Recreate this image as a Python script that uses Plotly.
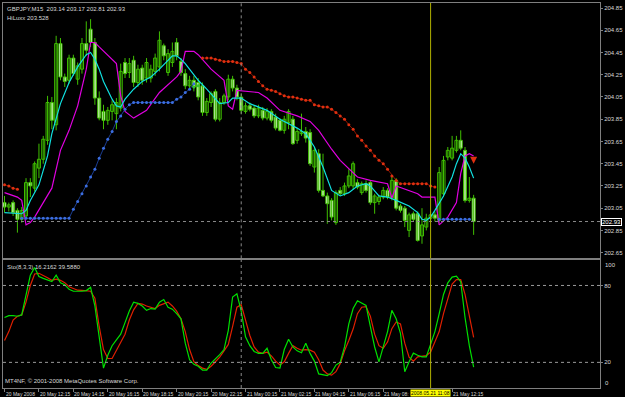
import plotly.graph_objects as go

# ---------------- data ----------------
bar_index = list(range(110))

ohlc_rows = [
    (203.10,203.16,203.01,203.06),(203.06,203.10,203.02,203.08),(203.10,203.12,202.98,203.01),
    (203.03,203.05,202.83,202.95),(202.95,203.06,202.92,203.03),(202.98,203.32,202.96,203.28),
    (203.28,203.32,203.15,203.25),(203.23,203.47,203.20,203.45),(203.41,203.63,203.32,203.49),
    (203.49,203.70,203.45,203.67),(203.66,204.06,203.62,204.00),(204.00,204.05,203.76,203.84),
    (203.80,204.60,203.75,204.53),(204.53,204.58,204.20,204.23),(204.23,204.26,204.14,204.19),
    (204.20,204.43,204.17,204.40),(204.40,204.43,204.24,204.26),(204.21,204.36,204.16,204.33),
    (204.30,204.58,204.26,204.53),(204.53,204.73,204.42,204.47),(204.66,204.75,204.50,204.54),
    (204.54,204.58,203.98,204.04),(204.04,204.10,203.84,203.86),(203.92,203.98,203.76,203.84),
    (203.84,203.96,203.80,203.93),(203.92,204.02,203.84,203.98),(203.90,204.04,203.76,204.00),
    (203.95,204.35,203.92,204.28),(204.36,204.40,204.22,204.26),(204.27,204.40,204.22,204.35),
    (204.38,204.42,204.14,204.18),(204.18,204.34,204.14,204.30),(204.31,204.34,204.16,204.20),
    (204.22,204.40,204.18,204.36),(204.22,204.34,204.18,204.30),(204.28,204.44,204.24,204.40),
    (204.32,204.64,204.28,204.56),(204.51,204.53,204.38,204.42),(204.27,204.48,204.24,204.44),
    (204.36,204.54,204.32,204.46),(204.54,204.58,204.38,204.42),(204.37,204.40,204.24,204.27),
    (204.26,204.30,204.12,204.15),(204.15,204.24,204.12,204.20),(204.20,204.24,204.10,204.14),
    (204.18,204.22,204.02,204.05),(204.15,204.18,203.88,203.91),(203.91,204.04,203.88,204.01),
    (204.00,204.10,203.96,204.08),(204.10,204.12,203.83,203.85),(203.85,204.04,203.83,204.00),
    (204.00,204.08,203.98,204.06),(204.05,204.25,204.02,204.21),(204.21,204.24,204.10,204.13),
    (204.13,204.16,204.02,204.05),(204.05,204.08,203.90,203.93),(203.92,204.00,203.90,203.97),
    (203.97,204.00,203.92,203.94),(203.95,203.98,203.86,203.88),(203.88,203.98,203.86,203.95),
    (203.93,203.96,203.84,203.86),(203.86,203.95,203.84,203.92),(203.92,203.94,203.82,203.84),
    (203.87,203.90,203.75,203.77),(203.84,203.86,203.74,203.75),(203.75,203.88,203.72,203.85),
    (203.82,203.94,203.76,203.92),(203.85,203.88,203.62,203.63),(203.66,203.77,203.63,203.74),
    (203.72,203.90,203.70,203.74),(203.74,203.78,203.64,203.68),(203.73,203.76,203.43,203.45),
    (203.42,203.60,203.37,203.57),(203.54,203.58,203.19,203.21),(203.21,203.54,203.15,203.16),
    (203.16,203.19,202.91,203.09),(203.12,203.14,202.94,202.97),(202.92,203.21,202.90,203.19),
    (203.21,203.24,203.16,203.18),(203.18,203.28,203.16,203.25),(203.25,203.40,203.23,203.34),
    (203.25,203.47,203.22,203.45),(203.28,203.31,203.22,203.24),(203.19,203.29,203.17,203.27),
    (203.27,203.30,203.19,203.21),(203.28,203.30,203.08,203.10),(203.10,203.18,203.00,203.16),
    (203.11,203.17,203.08,203.15),(203.15,203.24,203.13,203.21),(203.21,203.23,203.13,203.15),
    (203.14,203.33,203.12,203.30),(203.30,203.32,203.03,203.05),(203.07,203.09,203.01,203.03),
    (203.05,203.07,202.88,202.94),(202.85,203.01,202.79,202.99),(203.00,203.02,202.93,202.95),
    (203.00,203.02,202.75,202.76),(202.80,203.05,202.73,202.90),(202.88,203.00,202.85,202.96),
    (202.96,203.02,202.93,202.99),(202.99,203.02,202.93,202.96),(202.94,203.42,202.92,203.37),
    (203.18,203.52,203.15,203.48),(203.51,203.60,203.48,203.57),(203.50,203.70,203.48,203.59),
    (203.57,203.70,203.55,203.66),(203.66,203.75,203.57,203.59),(203.57,203.60,203.10,203.12),
    (203.12,203.33,203.10,203.14),(203.14,203.17,202.81,202.93),
]
opens = [r[0] for r in ohlc_rows]
highs = [r[1] for r in ohlc_rows]
lows = [r[2] for r in ohlc_rows]
closes = [r[3] for r in ohlc_rows]

# fast moving average (cyan), read at selected bars
ma_fast_idx = [0,4,5,6,8,10,11,12,13,15,17,19,20,21,22,23,25,26,27,28,30,32,34,36,38,39,40,41,42,44,45,47,
               50,52,53,55,57,61,64,68,70,72,74,76,78,80,82,84,85,87,89,91,94,96,97,98,99,100,102,104,105,
               106,107,108,109]
ma_fast_val = [203.01,203.00,203.03,203.12,203.26,203.52,203.72,203.86,203.99,204.18,204.32,204.43,204.45,
               204.39,204.30,204.19,204.03,203.97,203.96,204.03,204.12,204.19,204.23,204.30,204.38,204.42,
               204.42,204.39,204.35,204.25,204.20,204.12,203.99,204.00,204.04,204.04,203.99,203.93,203.85,
               203.77,203.72,203.60,203.42,203.21,203.16,203.19,203.25,203.27,203.25,203.16,203.15,203.12,
               203.07,203.01,202.95,202.94,202.97,203.03,203.16,203.33,203.45,203.54,203.50,203.42,203.32]

# slow moving average (magenta)
ma_slow_idx = [0,3,4,5,6,7,9,11,13,15,17,19,20,21,22,25,26,27,28,30,33,36,40,41,42,44,45,48,50,51,52,53,
               54,59,61,64,68,71,73,76,78,82,85,89,90,91,96,97,100,101,103,105,106,107,108,109]
ma_slow_val = [203.19,203.15,203.12,202.90,202.92,202.97,203.10,203.23,203.57,203.75,203.97,204.30,204.54,
               204.54,204.50,204.39,204.35,204.06,203.92,203.86,203.93,204.09,204.23,204.28,204.46,204.46,
               204.43,204.30,204.23,204.20,203.97,203.94,204.11,204.09,204.04,203.93,203.88,203.83,203.75,
               203.58,203.48,203.33,203.30,203.27,203.14,203.25,203.18,203.15,203.15,202.90,202.97,203.10,
               203.36,203.52,203.54,203.52]

N = None
# trailing stop above price (red) and below price (blue), one value per bar
stop_upper = [203.26,203.25,203.23,203.22] + [N]*42 + [
    204.40,204.40,204.40,204.39,204.38,204.37,204.37,204.37,204.36,204.35,
    204.30,204.27,204.23,204.19,204.15,204.12,204.11,204.10,204.08,204.06,
    204.05,204.05,204.04,204.03,204.02,204.02,203.98,203.97,203.96,203.96,
    203.94,203.91,203.88,203.85,203.80,203.76,203.70,203.66,203.61,203.57,
    203.52,203.48,203.45,203.40,203.34,203.30,203.27,203.27,203.27,203.27,
    203.27,203.27,203.27,203.25,203.24] + [N]*9
stop_lower = [N]*4 + [202.96]*12 + [
    203.04,203.11,203.18,203.25,203.33,203.40,203.50,203.59,203.67,203.74,
    203.83,203.88,203.94,203.98,204.00,204.00,204.00,204.00,204.00,204.00,
    204.00,204.00,204.00,204.00,204.03,204.05,204.09,204.12,204.17] + [N]*56 + [202.95]*8 + [N]
switch_idx = [44, 45]
switch_val = [204.14, 204.15]
arrow_idx = [109]
arrow_val = [203.45]

stoch_k = [55,56.5,56.5,56,57,73,88,94,87,85.5,84.5,83,88,82,80.5,77,75.5,75.3,75.5,76,
           78.5,64,38,15.5,25.6,33,37.5,42,51,60,67,66,64,60.6,62,61.5,67,69,63,61.5,
           58,54,35,22,18.5,17,14,14,19.5,22.5,26,30,45,71,73.5,60,40,33,28.5,27,
           27,31,22,16,15.5,30,38,32,29,27.5,35,27,21,11,10,9.6,12,17.9,20,32,
           50,62,68,66,64.4,48,32,20.4,32,44,60.6,54,42.7,12.7,20.4,27.2,25.5,24.3,24.3,33.4,
           44,58,73,82,86.5,87.2,83,55,33,16.2162]
stoch_d = [37,44,53,56,57,67,80,89,89.5,88,86,84,85,84,82.2,79,77.5,76.3,76.2,76,
           75.5,70,48,30,23,23,29,35,42,53,61,66,65.5,64,63,62,64.5,66,67,64,
           60,54,44,30,20.5,17.5,15.5,14.5,17,20.5,24,29,34,48,63,65,52,41,32,28,
           27,28,25,21,17.9,20.4,27,33,31,29.5,30,29.5,28,22,14,11,10,12.7,19,29,
           37,46,58,63,63.5,56,42,33,31,36,46.3,51.5,50,35,24,21,24.3,24.8,25.3,28,
           36,44,58,70,81,84.5,84.5,73,55,39.588]

time_tick_idx = [0, 8, 16, 24, 32, 40, 48, 56, 64, 72, 80, 88, 104]
time_tick_text = ["20 May 2008", "20 May 12:15", "20 May 14:15", "20 May 16:15", "20 May 18:15",
                  "20 May 20:15", "20 May 22:15", "21 May 00:15", "21 May 02:15", "21 May 04:15",
                  "21 May 06:15", "21 May 08:", "21 May 12:15"]
price_ticks = [202.65, 202.85, 203.05, 203.25, 203.45, 203.65, 203.85, 204.05, 204.25, 204.45, 204.65, 204.85]
stoch_levels = [20, 80]
day_separator_idx = 55
vline_idx = 99
vline_label = "2008.05.21 11:08"
bid_price = 202.93
header = "GBPJPY,M15  203.14 203.17 202.81 202.93"
header2 = "HiLuxx 203.528"
stoch_title = "Sto(8,3,3) 16.2162 39.5880"
copyright_text = "MT4NF, © 2001-2008 MetaQuotes Software Corp."

# ---------------- figure ----------------
GRID = "#7f7f7f"
TXT = "#d8d8d8"
FONT = "Liberation Sans, Arial, sans-serif"
LIME = "#3fbf00"

fig = go.Figure()

# candle wicks
wick_x, wick_y = [], []
for i, h, l in zip(bar_index, highs, lows):
    wick_x += [i, i, None]
    wick_y += [l, h, None]
fig.add_trace(go.Scatter(x=wick_x, y=wick_y, mode="lines", line=dict(color=LIME, width=1),
                         hoverinfo="skip", showlegend=False, xaxis="x", yaxis="y"))
# candle bodies: bull = black body, bear = white body
body_len = [max(abs(c - o), 0.006) for o, c in zip(opens, closes)]
body_base = [min(o, c) for o, c in zip(opens, closes)]
body_fill = ["#000000" if c >= o else "#ffffff" for o, c in zip(opens, closes)]
fig.add_trace(go.Bar(x=bar_index, y=body_len, base=body_base, width=0.7,
                     marker=dict(color=body_fill, line=dict(color=LIME, width=1)),
                     hoverinfo="skip", showlegend=False, xaxis="x", yaxis="y"))

fig.add_trace(go.Scatter(x=ma_slow_idx, y=ma_slow_val, mode="lines",
                         line=dict(color="#e000e0", width=1.2), xaxis="x", yaxis="y", showlegend=False))
fig.add_trace(go.Scatter(x=ma_fast_idx, y=ma_fast_val, mode="lines",
                         line=dict(color="#10e0e0", width=1.2), xaxis="x", yaxis="y", showlegend=False))
fig.add_trace(go.Scatter(x=bar_index, y=stop_upper, mode="lines+markers", connectgaps=False,
                         line=dict(color="#8a1500", width=1),
                         marker=dict(color="#e03010", size=3),
                         xaxis="x", yaxis="y", showlegend=False))
fig.add_trace(go.Scatter(x=bar_index, y=stop_lower, mode="lines+markers", connectgaps=False,
                         line=dict(color="#1a3c90", width=1),
                         marker=dict(color="#3c6ee0", size=3),
                         xaxis="x", yaxis="y", showlegend=False))
fig.add_trace(go.Scatter(x=switch_idx, y=switch_val, mode="markers",
                         marker=dict(color="#30c030", size=3),
                         xaxis="x", yaxis="y", showlegend=False))
fig.add_trace(go.Scatter(x=arrow_idx, y=arrow_val, mode="markers",
                         marker=dict(color="#e03010", size=7, symbol="arrow-down"),
                         xaxis="x", yaxis="y", showlegend=False))

fig.add_trace(go.Scatter(x=bar_index, y=stoch_d, mode="lines",
                         line=dict(color="#e02000", width=1.2), xaxis="x2", yaxis="y2", showlegend=False))
fig.add_trace(go.Scatter(x=bar_index, y=stoch_k, mode="lines",
                         line=dict(color="#00e000", width=1.2), xaxis="x2", yaxis="y2", showlegend=False))

xr = [-0.35, 138.36]
MAIN_BOTTOM = 0.3368
SUB_TOP = 0.3329

fig.update_layout(
    width=625, height=397,
    margin=dict(l=2, r=21, t=2, b=9),
    paper_bgcolor="#000000", plot_bgcolor="#000000",
    font=dict(family=FONT, size=6, color=TXT),
    showlegend=False, hovermode=False, barmode="overlay",
    xaxis=dict(domain=[0, 1], range=xr, anchor="y", showticklabels=False, showgrid=False,
               zeroline=False, showline=True, mirror=True, linecolor=GRID, linewidth=1,
               fixedrange=True),
    yaxis=dict(domain=[MAIN_BOTTOM, 1], range=[202.599, 204.895], side="right", anchor="x",
               tickvals=price_ticks, ticktext=[f"{v:.2f}" for v in price_ticks],
               ticks="outside", ticklen=2, tickcolor=GRID, showgrid=False, zeroline=False,
               showline=True, mirror=True, linecolor=GRID, linewidth=1,
               tickfont=dict(size=6, color=TXT, family=FONT)),
    xaxis2=dict(domain=[0, 1], range=xr, anchor="y2", matches="x", showgrid=False, zeroline=False,
                tickvals=time_tick_idx, ticktext=[""] * len(time_tick_idx),
                ticks="outside", ticklen=3, tickcolor=GRID,
                showline=True, mirror=True, linecolor=GRID, linewidth=1),
    yaxis2=dict(domain=[0, SUB_TOP], range=[0, 100], side="right", anchor="x2",
                tickvals=stoch_levels, ticktext=[str(v) for v in stoch_levels],
                ticks="outside", ticklen=2, tickcolor=GRID, showgrid=False, zeroline=False,
                showline=True, mirror=True, linecolor=GRID, linewidth=1,
                tickfont=dict(size=6, color=TXT, family=FONT)),
)

shapes = []
for lv in stoch_levels:
    shapes.append(dict(type="line", xref="x2 domain", yref="y2", x0=0, x1=1, y0=lv, y1=lv,
                       line=dict(color="#9a9a9a", width=1, dash="dot")))
shapes.append(dict(type="line", xref="x domain", yref="y", x0=0, x1=1, y0=bid_price, y1=bid_price,
                   line=dict(color="#8a8a8a", width=1, dash="dot")))
for xr_, yr in [("x", "y domain"), ("x2", "y2 domain")]:
    shapes.append(dict(type="line", xref=xr_, yref=yr, x0=day_separator_idx, x1=day_separator_idx,
                       y0=0, y1=1, line=dict(color="#8a8a8a", width=1, dash="dot")))
    shapes.append(dict(type="line", xref=xr_, yref=yr, x0=vline_idx, x1=vline_idx,
                       y0=0, y1=1, line=dict(color="#b0b000", width=1)))
fig.update_layout(shapes=shapes)

ann = []
ann.append(dict(text=header, xref="paper", yref="paper", x=0.004, y=0.997, xanchor="left", yanchor="top",
                showarrow=False, font=dict(size=6, color=TXT)))
ann.append(dict(text=header2, xref="paper", yref="paper", x=0.004, y=0.975, xanchor="left", yanchor="top",
                showarrow=False, font=dict(size=6, color=TXT)))
ann.append(dict(text=stoch_title, xref="paper", yref="paper", x=0.004, y=SUB_TOP - 0.005, xanchor="left",
                yanchor="top", showarrow=False, font=dict(size=6, color=TXT)))
ann.append(dict(text=copyright_text, xref="paper", yref="paper", x=0.0, y=0.005, xanchor="left",
                yanchor="bottom", showarrow=False, font=dict(size=6, color=TXT)))
for idx, txt in zip(time_tick_idx, time_tick_text):
    ann.append(dict(text=txt, xref="x2", yref="paper", x=idx, y=0, xanchor="left", yanchor="top",
                    xshift=-1, yshift=-1, showarrow=False, font=dict(size=5, color=TXT)))
ann.append(dict(text=vline_label, xref="x2", yref="paper", x=vline_idx, y=0, xanchor="center", yanchor="top",
                yshift=-1, showarrow=False, bgcolor="#ffff00", borderpad=0,
                font=dict(size=5, color="#000000")))
ann.append(dict(text=f"{bid_price:.2f}", xref="paper", yref="y", x=1, y=bid_price, xanchor="left",
                yanchor="middle", xshift=1, showarrow=False, bgcolor="#000000", bordercolor="#ffffff",
                borderwidth=1, borderpad=0, font=dict(size=6, color="#ffffff")))
for v, sh in [(100, -5), (0, 5)]:
    ann.append(dict(text=str(v), xref="paper", yref="y2", x=1, y=v, xanchor="left", yanchor="middle",
                    xshift=3, yshift=sh, showarrow=False, font=dict(size=6, color=TXT)))
fig.update_layout(annotations=ann)

fig.write_html("out.html")
